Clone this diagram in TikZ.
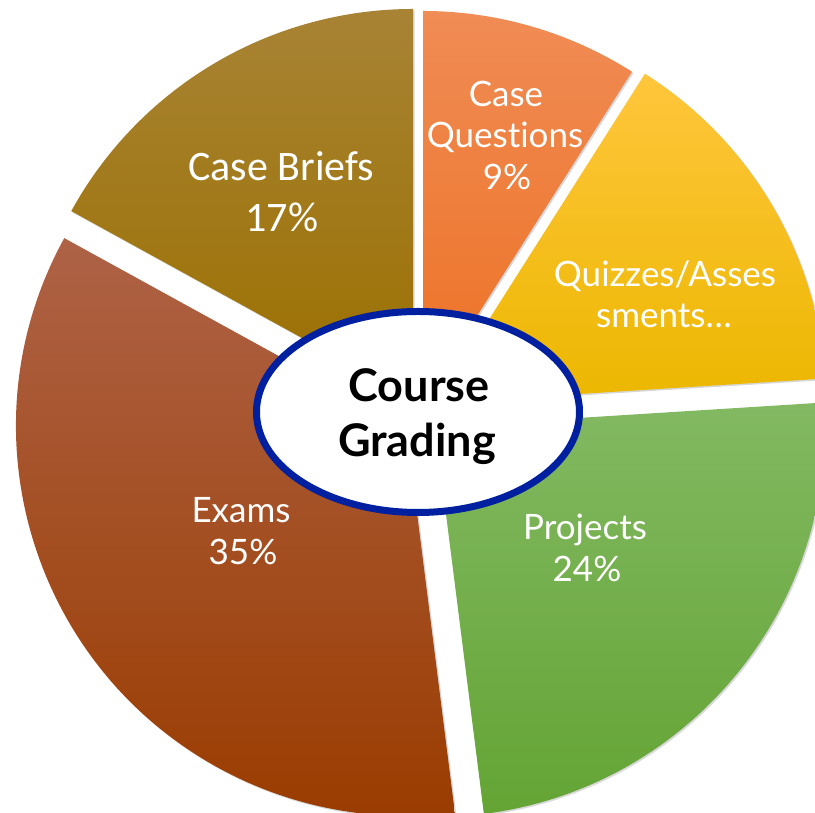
\documentclass[tikz,border=0pt]{standalone}
\usepackage{fontspec}
\setmainfont{Lato}[Ligatures=NoCommon]
\newfontfamily\cbfont{Carlito}
\usetikzlibrary{shadows,shapes.geometric}
\definecolor{cbtop}{RGB}{168,131,52}
\definecolor{cbbot}{RGB}{155,112,0}
\definecolor{cqtop}{RGB}{240,140,85}
\definecolor{cqbot}{RGB}{237,113,35}
\definecolor{qztop}{RGB}{255,198,60}
\definecolor{qzbot}{RGB}{236,183,0}
\definecolor{prtop}{RGB}{130,185,98}
\definecolor{prbot}{RGB}{100,164,52}
\definecolor{extop}{RGB}{174,98,70}
\definecolor{exbot}{RGB}{154,60,0}
\definecolor{ellblue}{RGB}{0,32,160}
\begin{document}
\begin{tikzpicture}[x=1pt,y=1pt,
  slice/.style={drop shadow={shadow xshift=1.5pt,shadow yshift=-1.5pt,opacity=0.3}},
  lbl/.style={text=white,font=\fontsize{35}{35}\selectfont,anchor=base,inner sep=0pt},
  cblbl/.style={text=white,font=\cbfont\fontsize{42}{42}\selectfont,anchor=base,inner sep=0pt},
  hublbl/.style={text=black,font=\bfseries\fontsize{45}{45}\selectfont,anchor=base,inner sep=0pt}]
\useasboundingbox (0,0) rectangle (815,813);
\fill[white] (0,0) rectangle (815,813);
\clip (0,0) rectangle (815,813);
\coordinate (cb) at (413,414);
\coordinate (cq) at (423,412);
\coordinate (qz) at (436,410);
\coordinate (pr) at (435,386);
\coordinate (ex) at (406,387);
\path[slice,top color=cbtop,bottom color=cbbot] (cb) -- ++(90:390) arc[start angle=90,end angle=151.2,radius=390] -- cycle;
\path[slice,top color=cqtop,bottom color=cqbot] (cq) -- ++(57.6:390) arc[start angle=57.6,end angle=90,radius=390] -- cycle;
\path[slice,top color=qztop,bottom color=qzbot] (qz) -- ++(3.6:390) arc[start angle=3.6,end angle=57.6,radius=390] -- cycle;
\path[slice,top color=prtop,bottom color=prbot] (pr) -- ++(-82.8:390) arc[start angle=-82.8,end angle=3.6,radius=390] -- cycle;
\path[slice,top color=extop,bottom color=exbot] (ex) -- ++(151.2:390) arc[start angle=151.2,end angle=277.2,radius=390] -- cycle;
\node[ellipse,draw=ellblue,line width=7pt,fill=white,minimum width=323pt,minimum height=201pt,inner sep=0pt] (hub) at (418,401) {};
\node[hublbl] (hub1) at (419,411) {Course};
\node[hublbl] (hub2) at (417,356) {Grading};
\node[cblbl] (cb1) at (281,632) {Case Briefs};
\node[cblbl] (cb2) at (282,581) {17\%};
\node[lbl] (cq1) at (506,706) {Case};
\node[lbl] (cq2) at (505,665) {Questions};
\node[lbl] (cq3) at (507,623) {9\%};
\node[lbl] (qz1) at (665,526) {Quizzes/Asses};
\node[lbl] (qz2) at (664,485) {sments…};
\node[lbl] (pr1) at (585,273) {Projects};
\node[lbl] (pr2) at (587,231) {24\%};
\node[lbl] (ex1) at (241,290) {Exams};
\node[lbl] (ex2) at (243,248) {35\%};
\end{tikzpicture}
\end{document}
